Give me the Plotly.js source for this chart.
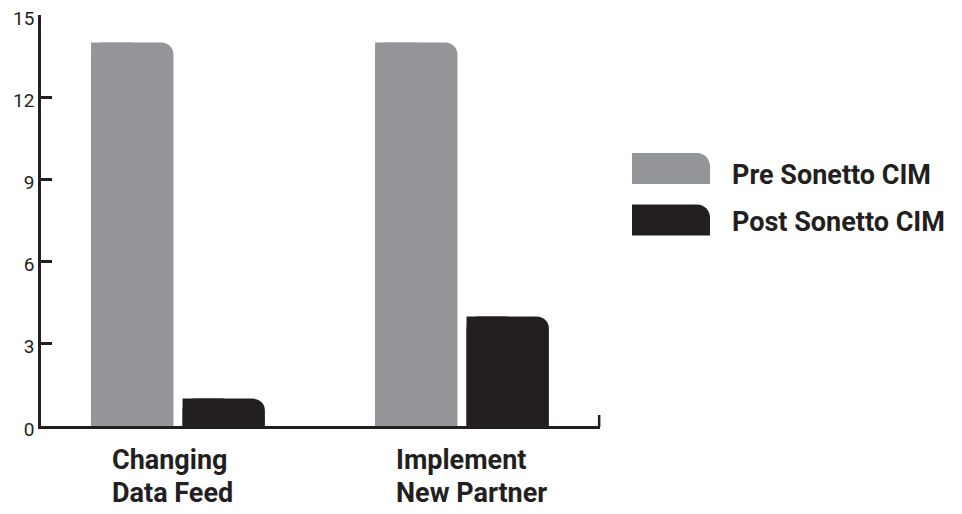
<!DOCTYPE html>
<html><head><meta charset="utf-8">
<script src="https://cdn.plot.ly/plotly-3.0.1.min.js"></script>
<style>html,body{margin:0;padding:0;background:#fff}#chart{width:962px;height:514px}</style>
</head><body><div id="chart"></div>
<script>
const categories = ["Changing Data Feed", "Implement New Partner"];
const categoryLines = [["Changing", "Data Feed"], ["Implement", "New Partner"]];
const seriesNames = ["Pre Sonetto CIM", "Post Sonetto CIM"];
const preValues = [14, 14];
const postValues = [1, 4];
const yTicks = [0, 3, 6, 9, 12, 15];

const colors = ["#939598", "#231f20"];
const ink = "#231f20";
const FONT = 'Roboto, "Noto Sans", sans-serif';

const W = 962, H = 514;
const M = {l: 41, r: 362, t: 15, b: 88};
const PW = W - M.l - M.r, PH = H - M.t - M.b;
const xRange = [-0.4824, 1.486];
const BW = 0.29;
const offsets = [-0.306, 0.016];
const series = [preValues, postValues];

const traces = [];
series.forEach((vals, i) => {
  traces.push({
    type: "bar", x: categories, y: vals, name: seriesNames[i],
    width: BW, offset: offsets[i], showlegend: false,
    marker: {color: colors[i], cornerradius: 12, line: {width: 0}},
    hoverinfo: "x+y+name"
  });
  traces.push({
    type: "bar", x: categories, y: vals, name: seriesNames[i],
    width: BW / 2, offset: offsets[i], showlegend: false,
    marker: {color: colors[i], line: {width: 0}},
    hoverinfo: "skip"
  });
});

const px2paperX = p => (p - M.l) / PW;
const px2paperY = p => (H - M.b - p) / PH;
const swW = 78, swH = 31, r = 13, k = 0.5523 * r;
const swPath = `M0,0 L0,${swH} L${swW - r},${swH} C${swW - r + k},${swH} ${swW},${swH - r + k} ${swW},${swH - r} L${swW},0 Z`;
const legendBottoms = [184, 235.5];
const legendText = [175, 222];
const shapes = [], annotations = [];

// small upward tick at right end of the x axis
shapes.push({
  type: "line", xref: "paper", yref: "paper", x0: 0.9985, x1: 0.9985,
  ysizemode: "pixel", yanchor: 0, y0: -1, y1: 11,
  line: {color: ink, width: 2.5}
});

seriesNames.forEach((nm, i) => {
  shapes.push({
    type: "path", xref: "paper", yref: "paper",
    xsizemode: "pixel", ysizemode: "pixel",
    xanchor: px2paperX(632), yanchor: px2paperY(legendBottoms[i]),
    path: swPath, fillcolor: colors[i], line: {width: 0}
  });
  annotations.push({
    xref: "paper", yref: "paper", x: px2paperX(730), y: px2paperY(legendText[i]),
    xanchor: "left", yanchor: "middle", showarrow: false, text: "<b>" + nm + "</b>",
    font: {family: FONT, size: 27, color: ink}
  });
});
const lineCenters = [460, 493];
categories.forEach((c, i) => {
  categoryLines[i].forEach((ln, j) => {
    annotations.push({
      xref: "x", yref: "paper", x: c, y: px2paperY(lineCenters[j]),
      xanchor: "left", yanchor: "middle", xshift: -68, showarrow: false,
      text: "<b>" + ln + "</b>",
      font: {family: FONT, size: 27, color: ink}
    });
  });
});

const layout = {
  width: W, height: H, margin: M, paper_bgcolor: "#fff", plot_bgcolor: "#fff",
  barmode: "overlay", showlegend: false,
  font: {family: FONT, color: ink},
  xaxis: {
    type: "category", range: xRange, showgrid: false, zeroline: false,
    showline: true, linecolor: ink, linewidth: 2.5,
    ticks: "", showticklabels: false, fixedrange: true
  },
  yaxis: {
    range: [0, 15], showgrid: false, zeroline: false,
    showline: true, linecolor: ink, linewidth: 2.5,
    ticks: "inside", tickmode: "array", tickvals: yTicks,
    ticklen: 11, tickwidth: 2.5, tickcolor: ink,
    ticklabelshift: 3,
    tickfont: {family: FONT, size: 19, color: ink},
    fixedrange: true
  },
  shapes: shapes, annotations: annotations
};

Plotly.newPlot("chart", traces, layout, {displayModeBar: false});
</script></body></html>
